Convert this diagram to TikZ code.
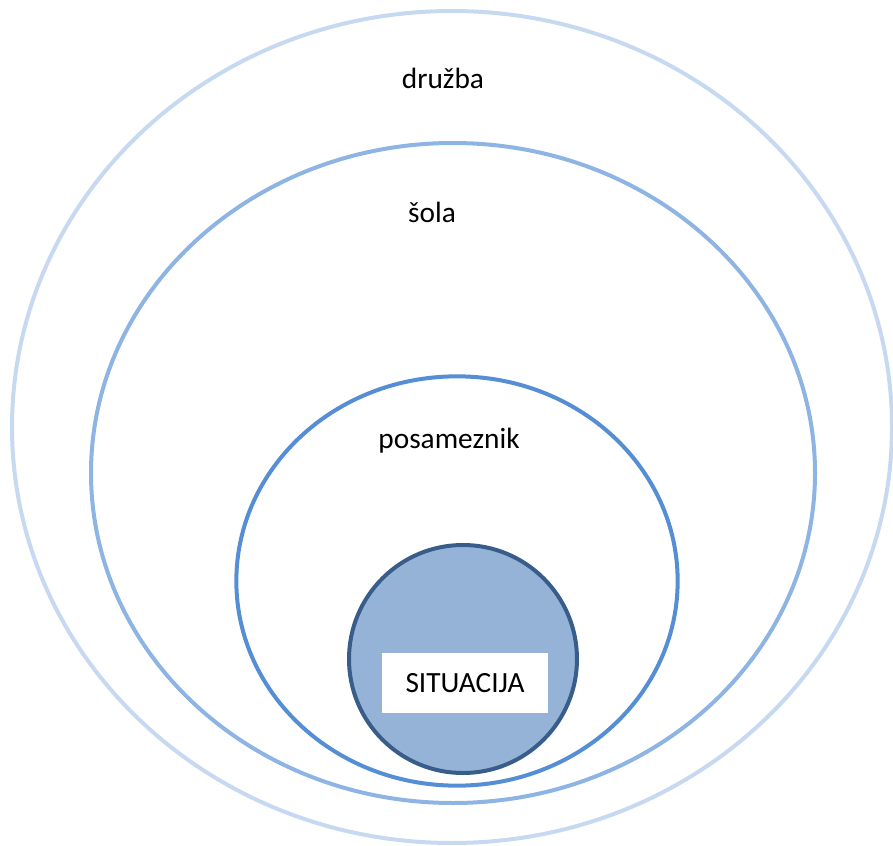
\documentclass[tikz,border=0pt]{standalone}
\usepackage{fontspec}
\setmainfont{Carlito}
\usetikzlibrary{shapes.geometric}
\definecolor{ringone}{HTML}{C6D9F1}
\definecolor{ringtwo}{HTML}{8EB4E3}
\definecolor{ringthree}{HTML}{558ED5}
\definecolor{coreline}{HTML}{385D8A}
\definecolor{corefill}{HTML}{95B3D7}
\begin{document}
\begin{tikzpicture}
[
    x=0.75pt, y=-0.75pt,
    ring/.style={ellipse, draw, line width=3pt, inner sep=0pt, outer sep=0pt},
    label/.style={font=\fontsize{22}{26}\selectfont},
]
\useasboundingbox (0,0) rectangle (893,846);
\node[ring, draw=ringone, minimum width=660pt, minimum height=624pt] (druzba) at (452,427) {};
\node[ring, draw=ringtwo, minimum width=543pt, minimum height=495pt] (sola) at (453,473) {};
\node[ring, draw=ringthree, minimum width=331pt, minimum height=307pt] (posameznik) at (457,581) {};
\node[ring, draw=coreline, fill=corefill, minimum width=171pt, minimum height=171pt] (jedro) at (463,659) {};
\node[label] (tdruzba) at (443,78) {družba};
\node[label] (tsola) at (432,212) {šola};
\node[label] (tposameznik) at (449,441) {posameznik};
\node[label, fill=white, minimum width=124pt, minimum height=45pt] (situacija) at (465,683) {SITUACIJA};
\end{tikzpicture}
\end{document}
